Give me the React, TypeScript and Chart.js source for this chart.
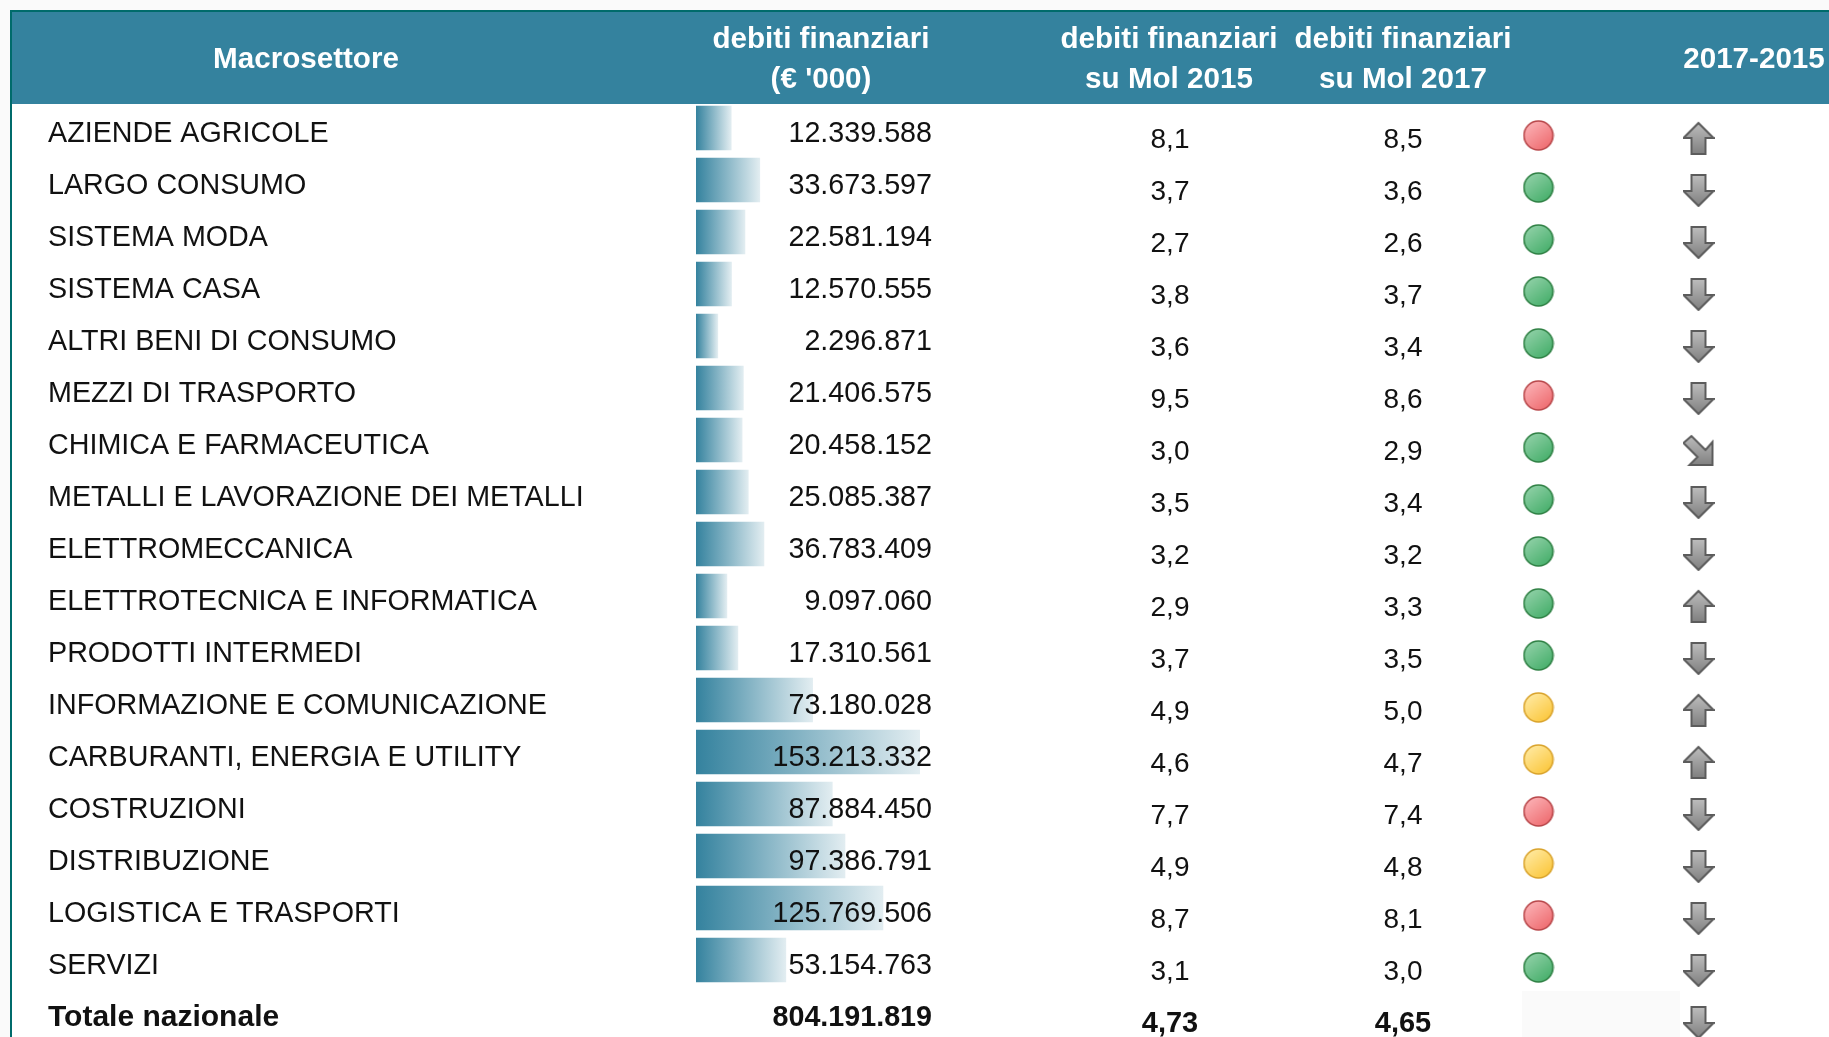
import React, { useEffect, useRef } from "react";
import { Chart, registerables } from "chart.js";

Chart.register(...registerables);

const sectors = [
  "AZIENDE AGRICOLE", "LARGO CONSUMO", "SISTEMA MODA", "SISTEMA CASA", "ALTRI BENI DI CONSUMO",
  "MEZZI DI TRASPORTO", "CHIMICA E FARMACEUTICA", "METALLI E LAVORAZIONE DEI METALLI", "ELETTROMECCANICA",
  "ELETTROTECNICA E INFORMATICA", "PRODOTTI INTERMEDI", "INFORMAZIONE E COMUNICAZIONE",
  "CARBURANTI, ENERGIA E UTILITY", "COSTRUZIONI", "DISTRIBUZIONE", "LOGISTICA E TRASPORTI", "SERVIZI",
  "Totale nazionale",
];
const debts = [
  12339588, 33673597, 22581194, 12570555, 2296871, 21406575, 20458152, 25085387, 36783409,
  9097060, 17310561, 73180028, 153213332, 87884450, 97386791, 125769506, 53154763, 804191819,
];
const mol2015 = ["8,1", "3,7", "2,7", "3,8", "3,6", "9,5", "3,0", "3,5", "3,2", "2,9", "3,7", "4,9", "4,6", "7,7", "4,9", "8,7", "3,1", "4,73"];
const mol2017 = ["8,5", "3,6", "2,6", "3,7", "3,4", "8,6", "2,9", "3,4", "3,2", "3,3", "3,5", "5,0", "4,7", "7,4", "4,8", "8,1", "3,0", "4,65"];
const status = ["red", "green", "green", "green", "green", "red", "green", "green", "green", "green", "green", "yellow", "yellow", "red", "yellow", "red", "green", null];
const trend = ["up", "down", "down", "down", "down", "down", "downRight", "down", "down", "up", "down", "up", "up", "down", "down", "down", "down", "down"];

const TEAL = "#34829e";
const FONT = "'Liberation Sans', Arial, sans-serif";
const LAST = sectors.length - 1;
const barScaleMin = -14e6;
const barScaleMax = 833e6;
const colX = { value: 932, m15: 1170, m17: 1403, status: 1538.5, trend: 1698.5 };

const fmt = (n: number) => String(n).replace(/\B(?=(\d{3})+$)/g, ".");

function dotSprite(c: string) {
  const pal: any = {
    red: ["#fbb0b4", "#ee6a6e", "#b8474a"],
    green: ["#8fd0a6", "#45ae6a", "#2f8044"],
    yellow: ["#ffe9a0", "#fbc63a", "#d9a32c"],
  }[c];
  const s = document.createElement("canvas");
  s.width = 32; s.height = 46;
  const g = s.getContext("2d")!;
  const gr = g.createLinearGradient(6, 18, 26, 44);
  gr.addColorStop(0, pal[0]); gr.addColorStop(1, pal[1]);
  g.beginPath(); g.arc(16, 30.5, 14.5, 0, Math.PI * 2);
  g.fillStyle = gr; g.fill();
  g.lineWidth = 1.6; g.strokeStyle = pal[2]; g.stroke();
  return s;
}

function arrowSprite(d: string) {
  const s = document.createElement("canvas");
  s.width = 32; s.height = 54;
  const g = s.getContext("2d")!;
  let pts: number[][];
  if (d === "down") pts = [[9, 1], [23, 1], [23, 17], [31, 17], [16, 32], [1, 17], [9, 17]];
  else if (d === "up") pts = [[16, 1], [31, 16], [23, 16], [23, 32], [9, 32], [9, 16], [1, 16]];
  else pts = [[9, 2], [1, 9], [15, 23], [7, 31], [30, 31], [30, 8], [23, 16]];
  g.translate(0, 21);
  g.beginPath();
  pts.forEach((p, i) => (i ? g.lineTo(p[0], p[1]) : g.moveTo(p[0], p[1])));
  g.closePath();
  const gr = g.createLinearGradient(0, 0, 0, 33);
  gr.addColorStop(0, "#bfbfbf"); gr.addColorStop(1, "#7d7d7d");
  g.fillStyle = gr; g.fill();
  g.lineWidth = 2; g.strokeStyle = "#5c5c5c"; g.lineJoin = "miter"; g.stroke();
  return s;
}

const tablePlugin = {
  id: "table",
  beforeDraw(chart: any) {
    const { ctx, width, height } = chart;
    ctx.save();
    ctx.fillStyle = "#ffffff"; ctx.fillRect(0, 0, width, height);
    ctx.fillStyle = "#fafafa";
    ctx.fillRect(0, 0, width, 10);
    ctx.fillRect(0, 0, 10, height);
    ctx.fillRect(1522, 991, 158, 49);
    ctx.fillStyle = TEAL; ctx.fillRect(12, 12, width - 12, 92);
    ctx.fillStyle = "#006b6b";
    ctx.fillRect(10, 10, width - 10, 2);
    ctx.fillRect(10, 10, 2, height - 10);
    ctx.restore();
  },
  afterDatasetsDraw(chart: any) {
    const { ctx } = chart;
    const y = chart.scales.y;
    ctx.save();
    ctx.textBaseline = "middle";
    ctx.fillStyle = "#ffffff"; ctx.textAlign = "center";
    ctx.font = `bold 29.6px ${FONT}`;
    const hdr: [string, number, number][] = [
      ["Macrosettore", 306, 60],
      ["debiti finanziari", 821, 40], ["(€ '000)", 821, 80],
      ["debiti finanziari", 1169, 40], ["su Mol 2015", 1169, 80],
      ["debiti finanziari", 1403, 40], ["su Mol 2017", 1403, 80],
      ["2017-2015", 1754, 60],
    ];
    hdr.forEach(([t, x, yy]) => ctx.fillText(t, x, yy));
    ctx.fillStyle = "#111111";
    sectors.forEach((_, i) => {
      const py = y.getPixelForValue(i);
      const bold = i === LAST;
      ctx.font = `${bold ? "bold " : ""}28.7px ${FONT}`;
      ctx.textAlign = "right";
      ctx.fillText(fmt(debts[i]), colX.value, py + 6);
      ctx.font = `${bold ? "bold 29px" : "28px"} ${FONT}`;
      ctx.textAlign = "center";
      ctx.fillText(mol2015[i], colX.m15, py + 12);
      ctx.fillText(mol2017[i], colX.m17, py + 12);
    });
    ctx.restore();
  },
};

export default function App() {
  const ref = useRef<HTMLCanvasElement>(null);
  useEffect(() => {
    const sprites: any = {
      red: dotSprite("red"), green: dotSprite("green"), yellow: dotSprite("yellow"),
      up: arrowSprite("up"), down: arrowSprite("down"), downRight: arrowSprite("downRight"),
    };
    const chart = new Chart(ref.current!, {
      type: "bar",
      data: {
        labels: sectors,
        datasets: [
          {
            type: "bar",
            data: debts.map((v, i) => (i === LAST ? null : v)),
            base: barScaleMin,
            barThickness: 44,
            xAxisID: "x",
            yAxisID: "y",
            backgroundColor: (c: any) => {
              const sc = c.chart.scales.x;
              const v = c.raw;
              if (!sc || typeof v !== "number") return TEAL;
              const x0 = sc.getPixelForValue(barScaleMin);
              const x1 = sc.getPixelForValue(v);
              if (!isFinite(x0) || !isFinite(x1)) return TEAL;
              const g = c.chart.ctx.createLinearGradient(x0, 0, x1, 0);
              g.addColorStop(0, TEAL);
              g.addColorStop(1, "#e2edf1");
              return g;
            },
            borderWidth: 0,
          } as any,
          {
            type: "line",
            indexAxis: "y",
            showLine: false,
            xAxisID: "col",
            yAxisID: "y",
            data: status.map((s, i) => (s ? { x: colX.status, y: i } : null)).filter(Boolean),
            pointStyle: (c: any) => sprites[status[c.dataIndex] as string] ?? "circle",
            pointRadius: 16,
            clip: false,
          } as any,
          {
            type: "line",
            indexAxis: "y",
            showLine: false,
            xAxisID: "col",
            yAxisID: "y",
            data: trend.map((_, i) => ({ x: colX.trend, y: i })),
            pointStyle: (c: any) => sprites[trend[c.dataIndex]] ?? "circle",
            pointRadius: 16,
            clip: false,
          } as any,
        ],
      },
      options: {
        indexAxis: "y",
        animation: false,
        responsive: false,
        layout: { autoPadding: false, padding: { left: 48, top: 102, right: 0, bottom: 0 } },
        plugins: { legend: { display: false }, tooltip: { enabled: false }, title: { display: false } },
        scales: {
          x: { type: "linear", min: barScaleMin, max: barScaleMax, display: false },
          col: { type: "linear", axis: "x", min: 696, max: 1829, display: false },
          y: {
            type: "category",
            offset: true,
            grid: { display: false },
            border: { display: false },
            afterFit: (s: any) => { s.width = 648; s.paddingTop = 0; s.paddingBottom = 0; },
            ticks: {
              autoSkip: false,
              crossAlign: "far",
              labelOffset: 6,
              padding: 0,
              color: "#111111",
              font: (c: any) => ({ family: FONT, size: c.index === LAST ? 30 : 28.7, weight: c.index === LAST ? "bold" : "normal" }),
            },
          },
        },
      } as any,
      plugins: [tablePlugin],
    });
    return () => chart.destroy();
  }, []);
  return (
    <div style={{ position: "absolute", left: 0, top: 0, width: 1829, height: 1037, overflow: "hidden" }}>
      <canvas ref={ref} width={1829} height={1038} style={{ display: "block", width: 1829, height: 1038 }} />
    </div>
  );
}
